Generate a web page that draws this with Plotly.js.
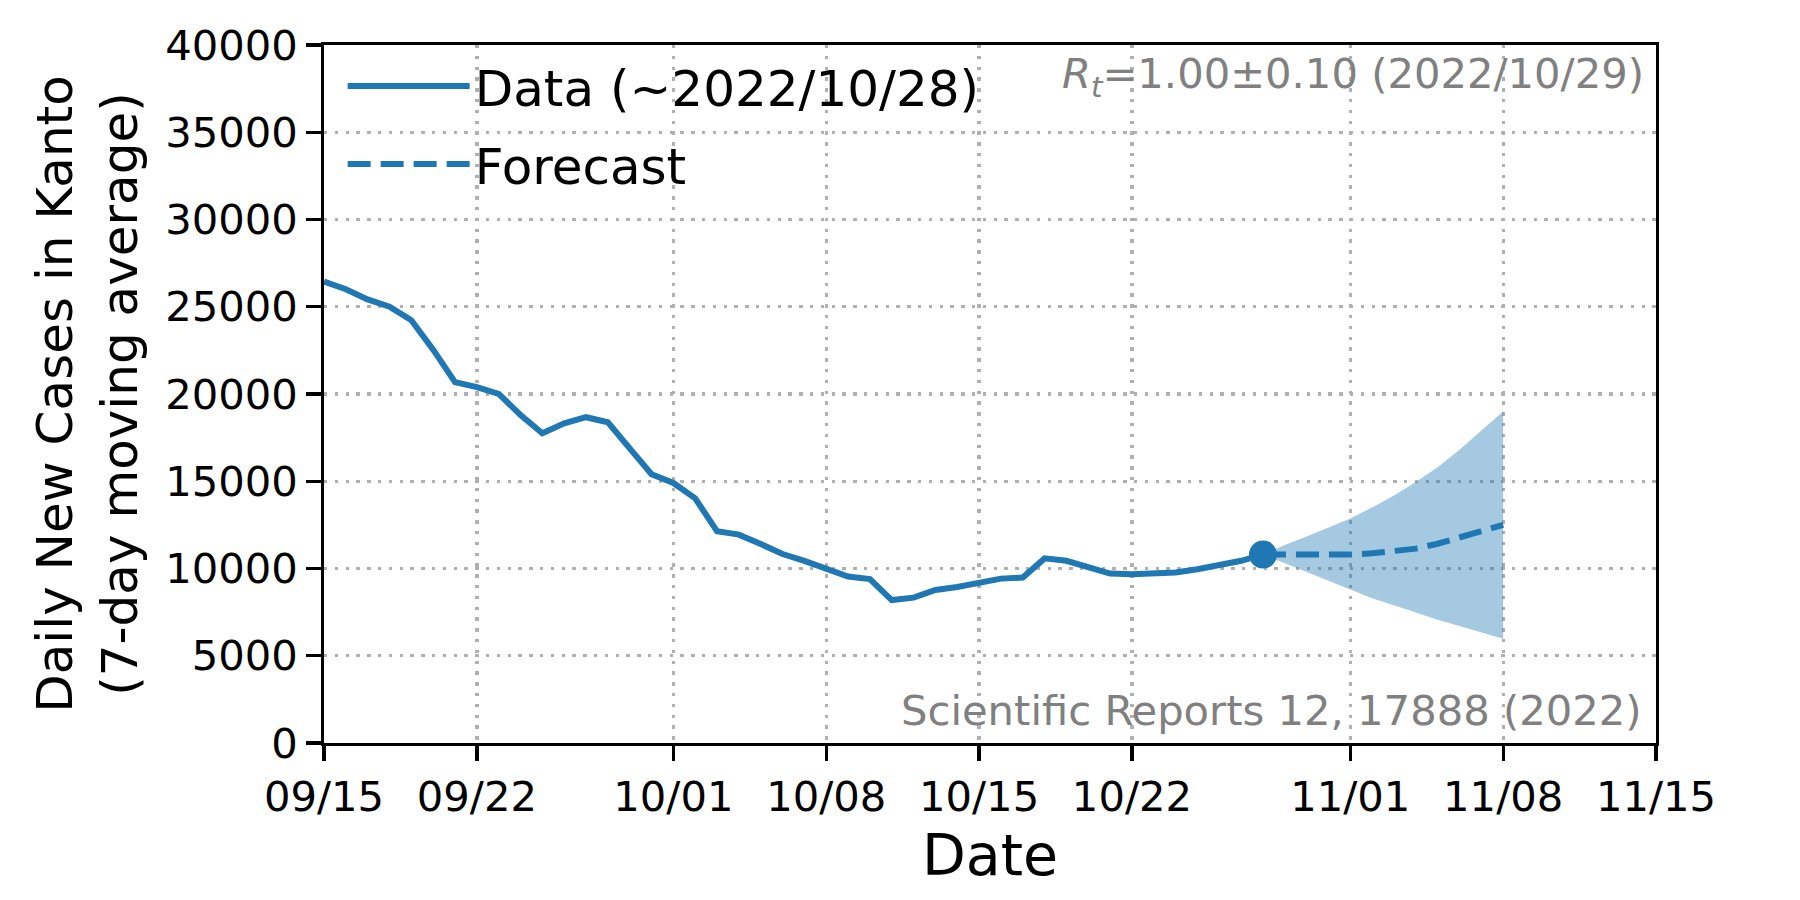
<!DOCTYPE html>
<html>
<head>
<meta charset="utf-8">
<script src="https://cdn.plot.ly/plotly-3.0.1.min.js"></script>
<style>
  html, body { margin: 0; padding: 0; background: #ffffff; }
  #chart { width: 1800px; height: 900px; }
</style>
</head>
<body>
<div id="chart"></div>
<script>
// ---- Data ----
const dataDates = [
  "2022-09-15","2022-09-16","2022-09-17","2022-09-18","2022-09-19","2022-09-20","2022-09-21",
  "2022-09-22","2022-09-23","2022-09-24","2022-09-25","2022-09-26","2022-09-27","2022-09-28",
  "2022-09-29","2022-09-30","2022-10-01","2022-10-02","2022-10-03","2022-10-04","2022-10-05",
  "2022-10-06","2022-10-07","2022-10-08","2022-10-09","2022-10-10","2022-10-11","2022-10-12",
  "2022-10-13","2022-10-14","2022-10-15","2022-10-16","2022-10-17","2022-10-18","2022-10-19",
  "2022-10-20","2022-10-21","2022-10-22","2022-10-23","2022-10-24","2022-10-25","2022-10-26",
  "2022-10-27","2022-10-28"
];
const dataValues = [
  26450, 26000, 25420, 25000, 24230, 22540, 20680,
  20390, 20010, 18800, 17750, 18320, 18670, 18380,
  16880, 15400, 14900, 14020, 12130, 11940, 11400,
  10830, 10440, 9960, 9540, 9390, 8190, 8330,
  8770, 8940, 9190, 9420, 9480, 10580, 10440,
  10060, 9710, 9670, 9710, 9770, 9960, 10190,
  10440, 10800
];
const lastDate = ["2022-10-28"];
const lastValue = [10800];

const forecastDates = [
  "2022-10-28","2022-10-29","2022-10-30","2022-10-31","2022-11-01","2022-11-02",
  "2022-11-03","2022-11-04","2022-11-05","2022-11-06","2022-11-07","2022-11-08"
];
const forecastValues = [10800, 10790, 10770, 10770, 10800, 10870, 10980, 11140, 11420, 11800, 12200, 12500];
const forecastUpper  = [10800, 11350, 11840, 12340, 12870, 13500, 14180, 14950, 15800, 16800, 17900, 19000];
const forecastLower  = [10800, 10300, 9780, 9270, 8760, 8300, 7890, 7470, 7070, 6700, 6330, 5980];

const tickDates  = ["2022-09-15","2022-09-22","2022-10-01","2022-10-08","2022-10-15","2022-10-22","2022-11-01","2022-11-08","2022-11-15"];
const tickLabels = ["09/15","09/22","10/01","10/08","10/15","10/22","11/01","11/08","11/15"];
const yTicks = [0, 5000, 10000, 15000, 20000, 25000, 30000, 35000, 40000];

const seriesNames = ["Data (~2022/10/28)", "Forecast"];
const rtText = "<i>R</i><sub><i>t</i></sub>=1.00±0.10 (2022/10/29)";
const sourceText = "Scientific Reports 12, 17888 (2022)";

// ---- Styles ----
const blue = "#1f77b4";
const font = "DejaVu Sans, sans-serif";

const traces = [
  { x: forecastDates, y: forecastLower, type: "scatter", mode: "lines",
    line: { width: 0, color: "rgba(0,0,0,0)" }, showlegend: false, hoverinfo: "skip" },
  { x: forecastDates, y: forecastUpper, type: "scatter", mode: "lines",
    line: { width: 0, color: "rgba(0,0,0,0)" }, fill: "tonexty",
    fillcolor: "rgba(31,119,180,0.4)", showlegend: false, hoverinfo: "skip" },
  { x: dataDates, y: dataValues, type: "scatter", mode: "lines", name: seriesNames[0],
    legendgroup: "data", line: { color: blue, width: 6 } },
  { x: forecastDates, y: forecastValues, type: "scatter", mode: "lines", name: seriesNames[1],
    legendgroup: "forecast", line: { color: blue, width: 6, dash: "23px,10px" } },
  { x: lastDate, y: lastValue, type: "scatter", mode: "markers", showlegend: false,
    marker: { color: blue, size: 28 } }
];

const axisCommon = {
  showline: true, linecolor: "#000", linewidth: 3.3, mirror: true,
  ticks: "outside", ticklen: 14.6, tickwidth: 3.3, tickcolor: "#000",
  showgrid: true, gridcolor: "#b0b0b0", gridwidth: 3.3, griddash: "3.3px,7.5px",
  zeroline: false,
  tickfont: { family: font, size: 41.7, color: "#000" }
};

const layout = {
  width: 1800, height: 900,
  paper_bgcolor: "#fff", plot_bgcolor: "#fff",
  margin: { l: 324, r: 144, t: 45, b: 157 },
  font: { family: font, color: "#000" },
  xaxis: Object.assign({}, axisCommon, {
    type: "date",
    range: ["2022-09-15", "2022-11-15"],
    tickmode: "array", tickvals: tickDates, ticktext: tickLabels,
    title: { text: "Date", font: { family: font, size: 57, color: "#000" }, standoff: 16 }
  }),
  yaxis: Object.assign({}, axisCommon, {
    range: [0, 40000],
    tickmode: "array", tickvals: yTicks, ticktext: yTicks.map(String),
    title: { text: "Daily New Cases in Kanto<br>(7-day moving average)",
             font: { family: font, size: 50, color: "#000" }, standoff: 12 }
  }),
  legend: {
    x: 0.014, y: 0.997, xanchor: "left", yanchor: "top",
    traceorder: "grouped", tracegroupgap: 10,
    bgcolor: "rgba(255,255,255,0)", borderwidth: 0,
    font: { family: font, size: 50, color: "#000" },
    itemwidth: 122
  },
  showlegend: true,
  annotations: [
    { xref: "paper", yref: "paper", x: 1, y: 1, xanchor: "right", yanchor: "top",
      xshift: -10, yshift: -2, text: rtText, showarrow: false,
      font: { family: font, size: 41.7, color: "#808080" } },
    { xref: "paper", yref: "paper", x: 1, y: 0, xanchor: "right", yanchor: "bottom",
      xshift: -12, yshift: 6, text: sourceText, showarrow: false,
      font: { family: font, size: 41.7, color: "#808080" } }
  ]
};

Plotly.newPlot("chart", traces, layout, { displayModeBar: false, staticPlot: true });
</script>
</body>
</html>
